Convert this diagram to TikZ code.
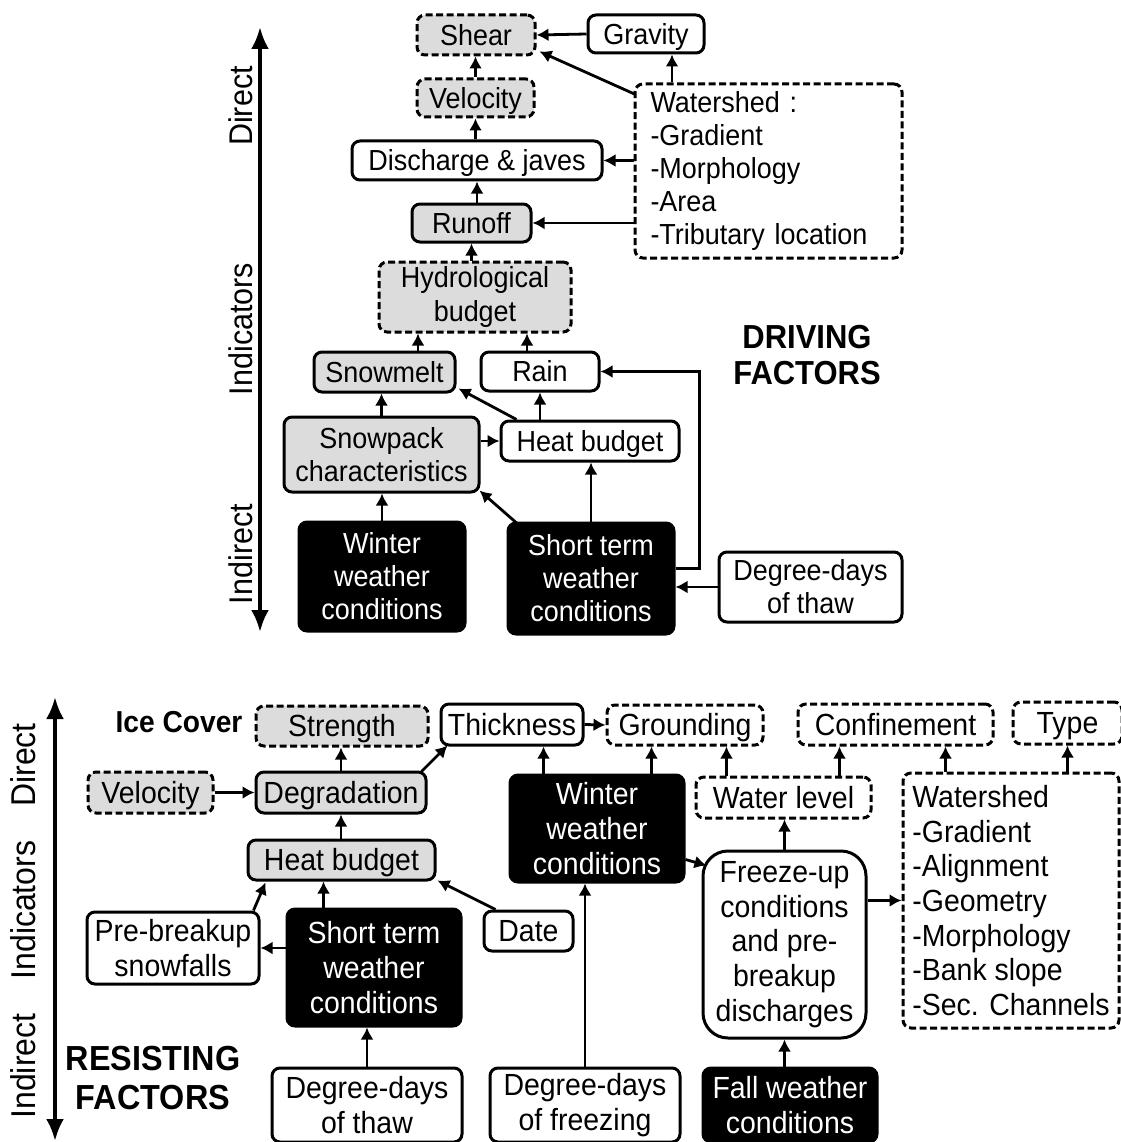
\documentclass[tikz,border=0pt]{standalone}
\usepackage{fontspec}
\setmainfont{Liberation Sans}[FakeStretch=0.93]
\usetikzlibrary{arrows.meta,calc}
\definecolor{boxgray}{HTML}{DCDCDC}
\tikzset{
  bx/.style={draw=black, line width=3pt, rounded corners=8pt, align=center, inner sep=0pt, fill=white},
  gr/.style={fill=boxgray},
  dsh/.style={dash pattern=on 7pt off 3.5pt},
  blk/.style={fill=black, text=white},
  sz/.style 2 args={minimum width=#1pt, minimum height=#2pt},
  onet/.style={text height=20.5pt, text depth=0pt},
  oneb/.style={text height=21.5pt, text depth=0pt},
  arr/.style={line width=2.8pt, -{Latex[length=12pt,width=13pt]}},
  axis/.style={line width=4pt, {Latex[length=22pt,width=18pt]}-{Latex[length=22pt,width=18pt]}},
  ftop/.style={font=\fontsize{29}{33}\selectfont},
  fbot/.style={font=\fontsize{30.6}{34.7}\selectfont},
}
\begin{document}
\begin{tikzpicture}[x=1pt,y=-1pt]
\useasboundingbox (0,0) rectangle (1120,1142);

% ================= TOP: DRIVING FACTORS =================
\draw[axis] (260,632) -- (260,27);
\node[rotate=90, font=\fontsize{32.8}{34}\selectfont] (tdir) at (241,106) {Direct};
\node[rotate=90, font=\fontsize{32.8}{34}\selectfont] (tind) at (241,329) {Indicators};
\node[rotate=90, font=\fontsize{32.8}{34}\selectfont] (tinr) at (241,554) {Indirect};

\begin{scope}[ftop]
\node[bx,gr,dsh,onet,sz={118}{40}] (shear) at (476,35) {Shear};
\node[bx,onet,sz={116}{38}] (gravity) at (646,34) {Gravity};
\node[bx,gr,dsh,onet,sz={117}{38}] (velo) at (475.5,98) {Velocity};
\node[bx,onet,sz={250}{39}] (disch) at (477,160.5) {Discharge \& javes};
\node[bx,gr,onet,sz={119}{38}] (runoff) at (471.5,223) {Runoff};
\node[bx,gr,dsh,sz={192}{70}] (hydro) at (475,297) {Hydrological\\budget};
\node[bx,dsh,sz={267}{174},text width=236pt,align=left] (wsh) at (768.5,171)
  {Watershed :\\-Gradient\\-Morphology\\-Area\\-Tributary location};
\node[bx,gr,onet,sz={141}{40}] (snowmelt) at (384.5,372) {Snowmelt};
\node[bx,onet,sz={118}{39}] (rain) at (540,371.5) {Rain};
\node[bx,gr,sz={195}{75}] (snowpack) at (381.5,454.5) {Snowpack\\characteristics};
\node[bx,onet,sz={178}{40}] (heat) at (590,441) {Heat budget};
\node[bx,blk,sz={166}{109}] (winter) at (382,576.5) {Winter\\weather\\conditions};
\node[bx,blk,sz={166}{111}] (short) at (591,578.5) {Short term\\weather\\conditions};
\node[bx,sz={183}{70}] (ddthaw) at (810.5,587) {Degree-days\\of thaw};
\end{scope}
\node[font=\bfseries\fontsize{33.3}{36}\selectfont, align=center] (driving) at (807,355) {DRIVING\\FACTORS};

\coordinate (gA) at ($(gravity.south)+(26,0)$);
\coordinate (wA) at ($(wsh.north west)+(2,12)$);
\coordinate (shA) at ($(shear.south east)+(3,-5)$);
\coordinate (smA) at ($(snowmelt.north)+(33.5,0)$);
\coordinate (rnA) at ($(rain.north)+(-13,0)$);
\coordinate (htA) at ($(heat.north west)+(17,0)$);
\coordinate (smB) at ($(snowmelt.south east)+(2,-5)$);
\coordinate (stA) at ($(short.north west)+(13,4)$);
\coordinate (spA) at ($(snowpack.south east)+(-1,-3)$);
\coordinate (stR) at ($(short.east)+(0,-10)$);

\draw[arr] (gravity.west) -- (shear.east);
\draw[arr] (wA) -- (shA);
\draw[arr] (wsh.north -| gA) -- (gA);
\draw[arr] (velo.north) -- (velo.north |- shear.south);
\draw[arr] (disch.north -| velo.south) -- (velo.south);
\draw[arr] (wsh.west |- disch.east) -- (disch.east);
\draw[arr] (runoff.north -| disch.south) -- (disch.south);
\draw[arr] (wsh.west |- runoff.east) -- (runoff.east);
\draw[arr] (hydro.north -| runoff.south) -- (runoff.south);
\draw[arr] (smA) -- (smA |- hydro.south);
\draw[arr] (rnA) -- (rnA |- hydro.south);
\draw[arr] (snowpack.north) -- (snowpack.north |- snowmelt.south);
\draw[arr] (htA) -- (smB);
\draw[arr] (heat.north -| rain.south) -- (rain.south);
\draw[arr] (snowpack.east |- heat.west) -- (heat.west);
\draw[arr] (winter.north) -- (winter.north |- snowpack.south);
\draw[arr] (stA) -- (spA);
\draw[arr] (short.north) -- (short.north |- heat.south);
\draw[arr] (stR) -- ++(24,0) |- (rain.east);
\draw[arr] (ddthaw.west) -- (ddthaw.west -| short.east);

% ================= BOTTOM: RESISTING FACTORS =================
\draw[axis] (55,1141) -- (55,697);
\node[rotate=90, font=\fontsize{34.4}{36}\selectfont] (bdir) at (23,765) {Direct};
\node[rotate=90, font=\fontsize{34.4}{36}\selectfont] (bind) at (23,910) {Indicators};
\node[rotate=90, font=\fontsize{34.4}{36}\selectfont] (binr) at (23,1066) {Indirect};

\node[font=\bfseries\fontsize{30.3}{34}\selectfont] (icecover) at (179,722) {Ice Cover};
\node[font=\bfseries\fontsize{34.8}{39}\selectfont, align=center] (resisting) at (153,1078) {RESISTING\\FACTORS};

\begin{scope}[fbot]
\node[bx,gr,dsh,oneb,sz={172}{40}] (strength) at (342,726) {Strength};
\node[bx,oneb,sz={142}{41}] (thick) at (512,724.5) {Thickness};
\node[bx,dsh,oneb,sz={156}{40}] (ground) at (685,725) {Grounding};
\node[bx,dsh,oneb,sz={195}{41}] (confine) at (895.5,724.5) {Confinement};
\node[bx,dsh,oneb,sz={109}{42}] (type) at (1067.5,723) {Type};
\node[bx,gr,dsh,oneb,sz={125}{41}] (velo2) at (150.5,792.5) {Velocity};
\node[bx,gr,oneb,sz={170}{41}] (degr) at (341,792.5) {Degradation};
\node[bx,gr,oneb,sz={187}{40}] (heat2) at (341.5,860) {Heat budget};
\node[bx,blk,sz={174}{107}] (winter2) at (597,828.5) {Winter\\weather\\conditions};
\node[bx,dsh,oneb,sz={175}{41}] (water) at (783.5,797.5) {Water level};
\node[bx,dsh,sz={216}{255},align=left] (wsh2) at (1011,900.5)
  {Watershed\\-Gradient\\-Alignment\\-Geometry\\-Morphology\\-Bank slope\\-Sec. Channels};
\node[bx,rounded corners=25pt,sz={163}{187}] (freeze) at (784.5,944.5)
  {Freeze-up\\conditions\\and pre-\\breakup\\discharges};
\node[bx,sz={172}{72}] (pre) at (173,948) {Pre-breakup\\snowfalls};
\node[bx,blk,sz={174}{117}] (short2) at (374,967.5) {Short term\\weather\\conditions};
\node[bx,oneb,sz={89}{40}] (date) at (528.5,931) {Date};
\node[bx,sz={190}{74}] (ddthaw2) at (367,1105) {Degree-days\\of thaw};
\node[bx,sz={190}{74}] (ddfreeze) at (585,1105) {Degree-days\\of freezing};
\node[bx,blk,sz={174}{74}] (fall) at (790,1105) {Fall weather\\conditions};
\end{scope}

\coordinate (dgA) at ($(degr.north east)+(-6,1)$);
\coordinate (thA) at ($(thick.south west)+(8,-1)$);
\coordinate (prA) at ($(pre.north east)+(-7,0)$);
\coordinate (h2A) at ($(heat2.south west)+(19,1)$);
\coordinate (s2A) at ($(short2.north west)+(38,0)$);
\coordinate (dtA) at ($(date.north west)+(13,0)$);
\coordinate (h2B) at ($(heat2.south east)+(1,-1)$);
\coordinate (w2A) at ($(winter2.north west)+(35,0)$);
\coordinate (w2B) at ($(winter2.north east)+(-34,0)$);
\coordinate (w2C) at ($(winter2.south east)+(0,-24)$);
\coordinate (frA) at ($(freeze.north west)+(5,16)$);
\coordinate (wlA) at ($(water.north west)+(32,0)$);
\coordinate (wlB) at ($(water.north east)+(-33,0)$);
\coordinate (frB) at ($(freeze.east)+(0,-44)$);
\coordinate (wsA) at ($(wsh2.north west)+(44,0)$);

\draw[arr] (thick.east) -- (ground.west);
\draw[arr] (velo2.east) -- (degr.west);
\draw[arr] (degr.north) -- (degr.north |- strength.south);
\draw[arr] (dgA) -- (thA);
\draw[arr] (heat2.north -| degr.south) -- (degr.south);
\draw[arr] (prA) -- (h2A);
\draw[arr] (s2A) -- (s2A |- heat2.south);
\draw[arr] (dtA) -- (h2B);
\draw[arr] (short2.west |- pre.east) -- (pre.east);
\draw[arr] (ddthaw2.north) -- (ddthaw2.north |- short2.south);
\draw[arr] (w2A) -- (w2A |- thick.south);
\draw[arr] (w2B) -- (w2B |- ground.south);
\draw[arr] (ddfreeze.north) -- (ddfreeze.north |- winter2.south);
\draw[arr] (w2C) -- (frA);
\draw[arr] (wlA) -- (wlA |- ground.south);
\draw[arr] (wlB) -- (wlB |- confine.south);
\draw[arr] (freeze.north) -- (freeze.north |- water.south);
\draw[arr] (frB) -- (frB -| wsh2.west);
\draw[arr] (wsA) -- (wsA |- confine.south);
\draw[arr] (wsh2.north -| type.south) -- (type.south);
\draw[arr] (fall.north -| freeze.south) -- (freeze.south);
\end{tikzpicture}
\end{document}
